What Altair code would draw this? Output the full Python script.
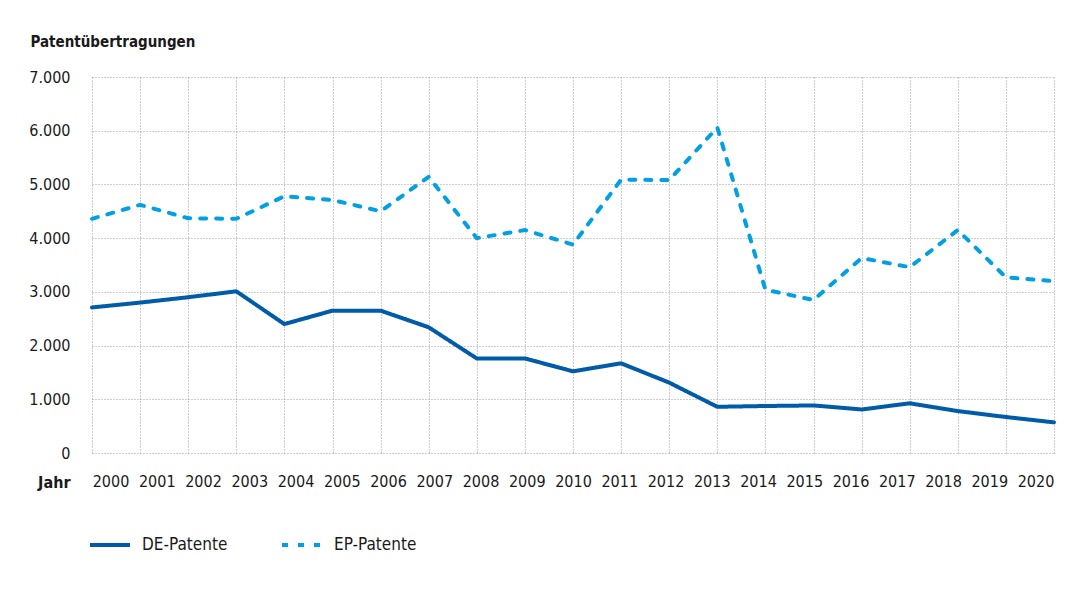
import altair as alt
import pandas as pd

years = list(range(2000, 2021))
de_patente = [2710, 2800, 2900, 3010, 2400, 2650, 2650, 2340, 1760, 1760, 1520,
              1670, 1310, 860, 875, 885, 810, 925, 780, 670, 570]
ep_patente = [4360, 4620, 4370, 4360, 4780, 4710, 4500, 5140, 4000, 4150, 3880,
              5090, 5080, 6060, 3040, 2850, 3630, 3460, 4150, 3270, 3200]
series_names = ["DE-Patente", "EP-Patente"]
y_ticks = [0, 1000, 2000, 3000, 4000, 5000, 6000, 7000]

rows = []
for name, vals in zip(series_names, [de_patente, ep_patente]):
    for y, v in zip(years, vals):
        rows.append({"Jahr": y, "JahrLabel": str(y), "Wert": v, "Serie": name})
df = pd.DataFrame(rows)

FONT = "DejaVu Sans Condensed, Liberation Sans Narrow, Roboto, sans-serif"
TXT = "#1a1a1a"

lines = alt.Chart(df).mark_line(strokeWidth=4, strokeCap="round", strokeJoin="round").encode(
    x=alt.X("Jahr:Q", scale=alt.Scale(domain=[2000, 2020], nice=False, zero=False),
            axis=alt.Axis(values=years, labels=False, ticks=False, domain=False,
                          title=None, grid=True, gridDash=[1, 2], gridColor="#9a9a9a",
                          gridWidth=1)),
    y=alt.Y("Wert:Q", scale=alt.Scale(domain=[0, 7000], nice=False),
            axis=alt.Axis(values=y_ticks, ticks=False, domain=False, grid=True,
                          gridDash=[1, 2], gridColor="#9a9a9a", gridWidth=1,
                          labelFontSize=16, labelPadding=22, labelColor=TXT, labelFont=FONT,
                          labelExpr="replace(format(datum.value, ','), /,/g, '.')",
                          title="Patentübertragungen", titleAngle=0, titleAlign="left",
                          titleBaseline="alphabetic", titleX=-62, titleY=-31,
                          titleFontSize=15, titleFontWeight="bold", titleFont=FONT,
                          titleColor=TXT)),
    color=alt.Color("Serie:N", scale=alt.Scale(domain=series_names, range=["#005ca9", "#00a0e3"]),
                    legend=alt.Legend(title=None, orient="none", legendX=-4, legendY=446,
                                      direction="horizontal", symbolType="stroke",
                                      symbolSize=1600, symbolStrokeWidth=4, labelFontSize=17,
                                      labelFont=FONT, labelColor=TXT, labelOffset=10,
                                      columnPadding=46)),
    strokeDash=alt.StrokeDash("Serie:N", scale=alt.Scale(domain=series_names, range=[[1, 0], [6, 10]]),
                              legend=None),
)

labels = alt.Chart(df).mark_point(opacity=0).encode(
    x=alt.X("JahrLabel:O", scale=alt.Scale(type="point", padding=0.4),
            axis=alt.Axis(orient="bottom", ticks=False, domain=False, grid=False,
                          labelAngle=0, labelFontSize=16, labelPadding=20, labelFont=FONT,
                          labelColor=TXT, title="Jahr", titleAngle=0, titleAlign="right",
                          titleBaseline="alphabetic", titleAnchor="start", titleX=-22, titleY=34,
                          titleFontSize=16, titleFontWeight="bold", titleFont=FONT,
                          titleColor=TXT)),
)

chart = alt.layer(lines, labels).resolve_scale(x="independent").properties(
    width=962, height=376,
    autosize=alt.AutoSizeParams(type="none"),
    padding={"left": 84, "top": 69, "right": 4, "bottom": 144},
    background="white",
).configure_view(stroke=None)

chart.save("out.html", embed_options={"renderer": "svg", "actions": False})
